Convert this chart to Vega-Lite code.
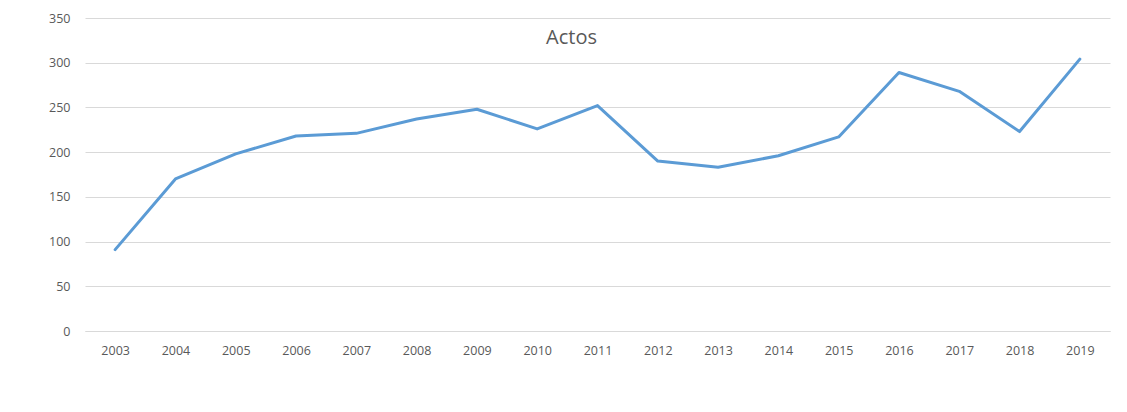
{
  "$schema": "https://vega.github.io/schema/vega-lite/v6.json",
  "width": 1025,
  "height": 313,
  "autosize": "none",
  "padding": {"left": 85, "top": 18, "right": 17, "bottom": 81},
  "background": "white",
  "title": {
    "text": "Actos",
    "orient": "top",
    "anchor": "middle",
    "offset": -34,
    "dy": 22,
    "dx": -26,
    "baseline": "bottom",
    "font": "Open Sans",
    "fontSize": 20,
    "fontWeight": "normal",
    "color": "#595959"
  },
  "config": {
    "view": {"stroke": null},
    "axis": {"labelFont": "Open Sans", "labelFontSize": 12.5, "labelColor": "#595959", "domain": false, "ticks": false, "title": null}
  },
  "data": {
    "values": [
      {"year": "2003", "value": 91},
      {"year": "2004", "value": 170},
      {"year": "2005", "value": 198},
      {"year": "2006", "value": 218},
      {"year": "2007", "value": 221},
      {"year": "2008", "value": 237},
      {"year": "2009", "value": 248},
      {"year": "2010", "value": 226},
      {"year": "2011", "value": 252},
      {"year": "2012", "value": 190},
      {"year": "2013", "value": 183},
      {"year": "2014", "value": 196},
      {"year": "2015", "value": 217},
      {"year": "2016", "value": 289},
      {"year": "2017", "value": 268},
      {"year": "2018", "value": 223},
      {"year": "2019", "value": 304}
    ]
  },
  "mark": {"type": "line", "color": "#5B9BD5", "strokeWidth": 3, "strokeCap": "round", "strokeJoin": "round"},
  "encoding": {
    "x": {
      "field": "year",
      "type": "ordinal",
      "scale": {"type": "point", "padding": 0.5},
      "axis": {"labelAngle": 0, "labelPadding": 13, "grid": false, "domain": true, "domainColor": "#D9D9D9", "domainWidth": 1}
    },
    "y": {
      "field": "value",
      "type": "quantitative",
      "scale": {"domain": [0, 350]},
      "axis": {"values": [0, 50, 100, 150, 200, 250, 300, 350], "labelPadding": 15, "grid": true, "gridColor": "#D9D9D9", "gridWidth": 1}
    }
  }
}
